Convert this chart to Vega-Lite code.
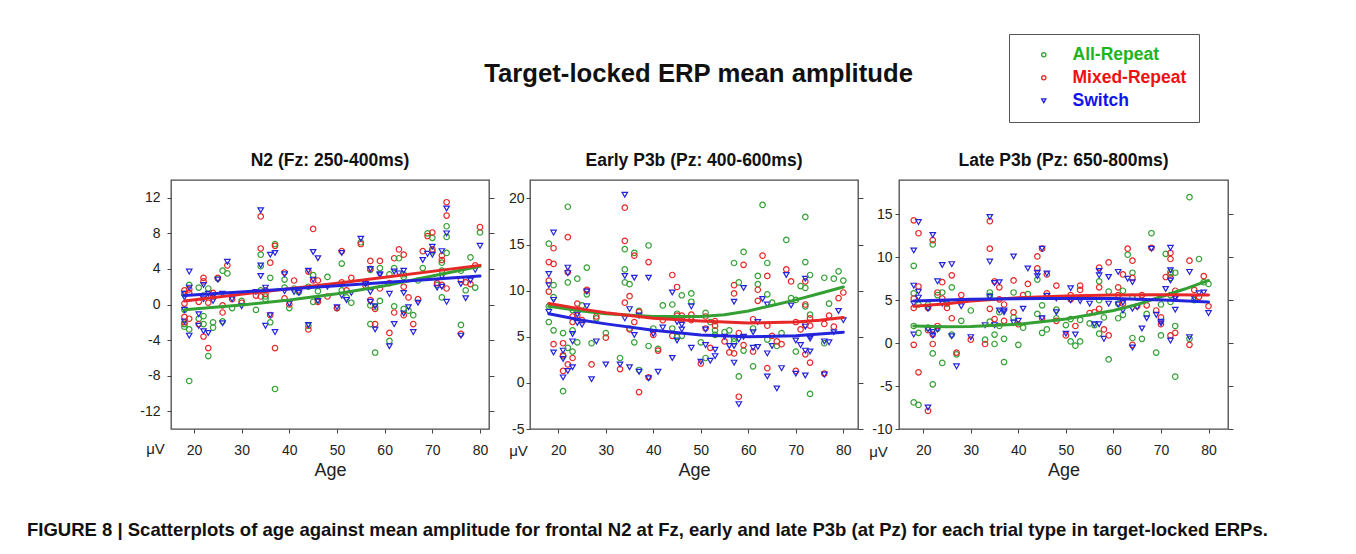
{
"$schema": "https://vega.github.io/schema/vega-lite/v6.json",
"padding": {"left": 27, "top": 33, "right": 5, "bottom": 5},
"background": "white",
"datasets": {
"n2": [
{"a":18,"t":"A","v":-2.5},{"a":18,"t":"A","v":-2.2},{"a":18,"t":"A","v":-0.6},{"a":18,"t":"A","v":1.2},{"a":18,"t":"M","v":1.6},{"a":18,"t":"M","v":0.1},{"a":18,"t":"M","v":-1.4},{"a":18,"t":"M","v":-2.0},{"a":18,"t":"S","v":1.2},{"a":18,"t":"S","v":0.8},{"a":18,"t":"S","v":-0.6},{"a":18,"t":"S","v":-1.9},
{"a":19,"t":"A","v":2.2},{"a":19,"t":"A","v":-2.8},{"a":19,"t":"A","v":-8.6},{"a":19,"t":"M","v":1.7},{"a":19,"t":"M","v":1.3},{"a":19,"t":"M","v":-1.6},{"a":19,"t":"S","v":3.7},{"a":19,"t":"S","v":1.9},{"a":19,"t":"S","v":-3.5},
{"a":21,"t":"A","v":1.9},{"a":21,"t":"A","v":-1.6},{"a":21,"t":"M","v":0.3},{"a":21,"t":"M","v":-2.2},{"a":21,"t":"S","v":-1.1},{"a":21,"t":"S","v":-2.4},
{"a":22,"t":"A","v":1.0},{"a":22,"t":"A","v":-1.3},{"a":22,"t":"A","v":-2.2},{"a":22,"t":"M","v":3.0},{"a":22,"t":"M","v":2.6},{"a":22,"t":"M","v":-3.6},{"a":22,"t":"S","v":2.2},{"a":22,"t":"S","v":0.6},{"a":22,"t":"S","v":-3.0},
{"a":23,"t":"A","v":1.8},{"a":23,"t":"A","v":-5.8},{"a":23,"t":"M","v":0.2},{"a":23,"t":"M","v":-4.9},{"a":23,"t":"S","v":1.2},{"a":23,"t":"S","v":-3.2},
{"a":24,"t":"A","v":-2.0},{"a":24,"t":"A","v":-2.6},{"a":24,"t":"M","v":1.3},{"a":24,"t":"M","v":0.9},{"a":24,"t":"S","v":0.4},{"a":24,"t":"S","v":1.0},
{"a":25,"t":"A","v":2.9},{"a":25,"t":"M","v":3.0},{"a":25,"t":"S","v":2.8},
{"a":26,"t":"A","v":3.8},{"a":26,"t":"A","v":-1.9},{"a":26,"t":"M","v":-0.1},{"a":26,"t":"M","v":-0.9},{"a":26,"t":"S","v":1.2},{"a":26,"t":"S","v":-2.1},
{"a":27,"t":"A","v":3.5},{"a":27,"t":"M","v":4.4},{"a":27,"t":"S","v":4.8},
{"a":28,"t":"A","v":-0.4},{"a":28,"t":"M","v":0.6},{"a":28,"t":"S","v":0.6},
{"a":30,"t":"A","v":0.4},{"a":30,"t":"M","v":0.2},{"a":30,"t":"S","v":-0.2},
{"a":33,"t":"A","v":-0.6},{"a":33,"t":"M","v":1.0},{"a":33,"t":"S","v":1.4},
{"a":34,"t":"A","v":5.6},{"a":34,"t":"A","v":4.3},{"a":34,"t":"A","v":1.6},{"a":34,"t":"M","v":9.9},{"a":34,"t":"M","v":6.3},{"a":34,"t":"M","v":0.9},{"a":34,"t":"S","v":10.6},{"a":34,"t":"S","v":4.4},{"a":34,"t":"S","v":3.2},
{"a":35,"t":"A","v":0.9},{"a":35,"t":"A","v":0.6},{"a":35,"t":"M","v":1.6},{"a":35,"t":"M","v":1.2},{"a":35,"t":"S","v":1.9},{"a":35,"t":"S","v":-2.4},
{"a":36,"t":"A","v":3.0},{"a":36,"t":"A","v":-2.0},{"a":36,"t":"M","v":4.7},{"a":36,"t":"M","v":-1.2},{"a":36,"t":"S","v":5.6},{"a":36,"t":"S","v":-1.2},
{"a":37,"t":"A","v":6.8},{"a":37,"t":"A","v":-9.5},{"a":37,"t":"M","v":6.6},{"a":37,"t":"M","v":-4.9},{"a":37,"t":"S","v":5.8},{"a":37,"t":"S","v":-3.1},
{"a":39,"t":"A","v":2.8},{"a":39,"t":"A","v":1.9},{"a":39,"t":"M","v":3.6},{"a":39,"t":"M","v":0.7},{"a":39,"t":"S","v":3.4},{"a":39,"t":"S","v":1.5},
{"a":40,"t":"A","v":-0.4},{"a":40,"t":"M","v":0.0},{"a":40,"t":"S","v":0.1},
{"a":41,"t":"A","v":1.8},{"a":41,"t":"M","v":2.7},{"a":41,"t":"S","v":1.4},
{"a":42,"t":"A","v":1.4},{"a":42,"t":"M","v":1.6},{"a":42,"t":"S","v":1.3},
{"a":44,"t":"A","v":2.0},{"a":44,"t":"A","v":-2.4},{"a":44,"t":"M","v":3.7},{"a":44,"t":"M","v":-2.8},{"a":44,"t":"S","v":3.8},{"a":44,"t":"S","v":-2.3},
{"a":45,"t":"A","v":3.3},{"a":45,"t":"A","v":0.3},{"a":45,"t":"M","v":8.5},{"a":45,"t":"M","v":2.7},{"a":45,"t":"S","v":5.9},{"a":45,"t":"S","v":2.8},
{"a":46,"t":"A","v":1.5},{"a":46,"t":"A","v":0.5},{"a":46,"t":"M","v":2.7},{"a":46,"t":"M","v":0.3},{"a":46,"t":"S","v":5.2},{"a":46,"t":"S","v":0.4},
{"a":48,"t":"A","v":3.1},{"a":48,"t":"M","v":0.9},{"a":48,"t":"S","v":2.0},
{"a":50,"t":"A","v":-0.4},{"a":50,"t":"M","v":-0.4},{"a":50,"t":"S","v":-0.3},
{"a":51,"t":"A","v":4.6},{"a":51,"t":"A","v":1.6},{"a":51,"t":"M","v":6.0},{"a":51,"t":"M","v":2.5},{"a":51,"t":"S","v":5.8},{"a":51,"t":"S","v":1.0},
{"a":52,"t":"A","v":0.8},{"a":52,"t":"M","v":1.6},{"a":52,"t":"S","v":0.5},
{"a":53,"t":"A","v":0.2},{"a":53,"t":"M","v":3.0},{"a":53,"t":"S","v":1.3},
{"a":55,"t":"A","v":7.0},{"a":55,"t":"M","v":6.8},{"a":55,"t":"S","v":7.4},
{"a":56,"t":"A","v":2.4},{"a":56,"t":"M","v":2.1},{"a":56,"t":"S","v":2.3},
{"a":57,"t":"A","v":3.9},{"a":57,"t":"A","v":-0.1},{"a":57,"t":"A","v":-2.2},{"a":57,"t":"M","v":4.9},{"a":57,"t":"M","v":4.0},{"a":57,"t":"M","v":0.5},{"a":57,"t":"S","v":4.0},{"a":57,"t":"S","v":1.4},{"a":57,"t":"S","v":0.3},
{"a":58,"t":"A","v":-0.3},{"a":58,"t":"A","v":-5.4},{"a":58,"t":"M","v":-0.5},{"a":58,"t":"M","v":-2.2},{"a":58,"t":"S","v":-0.2},{"a":58,"t":"S","v":-2.8},
{"a":59,"t":"A","v":4.1},{"a":59,"t":"A","v":0.4},{"a":59,"t":"M","v":4.9},{"a":59,"t":"M","v":1.8},{"a":59,"t":"S","v":3.4},{"a":59,"t":"S","v":3.3},
{"a":61,"t":"A","v":3.4},{"a":61,"t":"A","v":-4.1},{"a":61,"t":"M","v":2.4},{"a":61,"t":"M","v":-3.2},{"a":61,"t":"S","v":1.2},{"a":61,"t":"S","v":-4.7},
{"a":62,"t":"A","v":4.1},{"a":62,"t":"A","v":-0.2},{"a":62,"t":"M","v":5.2},{"a":62,"t":"M","v":-0.9},{"a":62,"t":"S","v":3.7},{"a":62,"t":"S","v":-2.2},
{"a":63,"t":"A","v":5.2},{"a":63,"t":"M","v":6.2},{"a":63,"t":"S","v":3.5},
{"a":64,"t":"A","v":3.4},{"a":64,"t":"A","v":3.1},{"a":64,"t":"A","v":-0.5},{"a":64,"t":"M","v":5.6},{"a":64,"t":"M","v":2.0},{"a":64,"t":"M","v":-1.2},{"a":64,"t":"S","v":3.8},{"a":64,"t":"S","v":1.3},{"a":64,"t":"S","v":-1.0},
{"a":65,"t":"A","v":-0.7},{"a":65,"t":"M","v":0.8},{"a":65,"t":"S","v":-0.3},
{"a":66,"t":"A","v":-1.2},{"a":66,"t":"M","v":-2.2},{"a":66,"t":"S","v":-3.1},
{"a":67,"t":"A","v":2.7},{"a":67,"t":"M","v":0.6},{"a":67,"t":"S","v":0.2},
{"a":68,"t":"A","v":4.1},{"a":68,"t":"M","v":6.0},{"a":68,"t":"S","v":5.0},
{"a":69,"t":"A","v":8.0},{"a":69,"t":"M","v":7.7},{"a":69,"t":"S","v":5.7},
{"a":70,"t":"A","v":7.5},{"a":70,"t":"A","v":6.0},{"a":70,"t":"M","v":8.1},{"a":70,"t":"M","v":6.2},{"a":70,"t":"S","v":6.5},{"a":70,"t":"S","v":5.6},
{"a":71,"t":"A","v":2.2},{"a":71,"t":"M","v":2.4},{"a":71,"t":"S","v":1.9},
{"a":72,"t":"A","v":4.7},{"a":72,"t":"A","v":3.8},{"a":72,"t":"A","v":0.8},{"a":72,"t":"M","v":5.5},{"a":72,"t":"M","v":5.0},{"a":72,"t":"M","v":2.2},{"a":72,"t":"S","v":6.0},{"a":72,"t":"S","v":3.1},{"a":72,"t":"S","v":2.0},
{"a":73,"t":"A","v":8.8},{"a":73,"t":"A","v":7.6},{"a":73,"t":"A","v":5.8},{"a":73,"t":"M","v":11.5},{"a":73,"t":"M","v":10.0},{"a":73,"t":"M","v":1.8},{"a":73,"t":"S","v":10.8},{"a":73,"t":"S","v":8.0},{"a":73,"t":"S","v":0.3},
{"a":76,"t":"A","v":3.8},{"a":76,"t":"A","v":-2.3},{"a":76,"t":"M","v":2.8},{"a":76,"t":"M","v":-3.3},{"a":76,"t":"S","v":2.3},{"a":76,"t":"S","v":-3.5},
{"a":77,"t":"A","v":1.6},{"a":77,"t":"M","v":2.5},{"a":77,"t":"S","v":0.7},
{"a":78,"t":"A","v":5.3},{"a":78,"t":"M","v":2.3},{"a":78,"t":"S","v":2.7},
{"a":79,"t":"A","v":1.9},{"a":79,"t":"M","v":4.4},{"a":79,"t":"S","v":3.9},
{"a":80,"t":"A","v":8.1},{"a":80,"t":"M","v":8.7},{"a":80,"t":"S","v":6.6}
],
"early": [
{"a":18,"t":"A","v":15.1},{"a":18,"t":"A","v":8.3},{"a":18,"t":"A","v":6.6},{"a":18,"t":"M","v":13.1},{"a":18,"t":"M","v":11.1},{"a":18,"t":"M","v":9.9},{"a":18,"t":"S","v":11.8},{"a":18,"t":"S","v":10.6},{"a":18,"t":"S","v":7.7},
{"a":19,"t":"A","v":10.6},{"a":19,"t":"A","v":9.3},{"a":19,"t":"A","v":5.7},{"a":19,"t":"M","v":14.6},{"a":19,"t":"M","v":12.9},{"a":19,"t":"M","v":4.2},{"a":19,"t":"S","v":16.3},{"a":19,"t":"S","v":9.0},{"a":19,"t":"S","v":3.3},
{"a":21,"t":"A","v":5.4},{"a":21,"t":"A","v":2.9},{"a":21,"t":"A","v":-0.9},{"a":21,"t":"M","v":4.3},{"a":21,"t":"M","v":3.0},{"a":21,"t":"M","v":1.3},{"a":21,"t":"S","v":3.5},{"a":21,"t":"S","v":2.6},{"a":21,"t":"S","v":0.6},
{"a":22,"t":"A","v":19.1},{"a":22,"t":"A","v":10.9},{"a":22,"t":"A","v":3.8},{"a":22,"t":"M","v":15.8},{"a":22,"t":"M","v":12.0},{"a":22,"t":"M","v":2.0},{"a":22,"t":"S","v":12.5},{"a":22,"t":"S","v":11.9},{"a":22,"t":"S","v":1.3},
{"a":23,"t":"A","v":7.9},{"a":23,"t":"A","v":5.7},{"a":23,"t":"A","v":3.4},{"a":23,"t":"M","v":7.2},{"a":23,"t":"M","v":6.6},{"a":23,"t":"M","v":2.7},{"a":23,"t":"S","v":5.3},{"a":23,"t":"S","v":4.5},{"a":23,"t":"S","v":1.7},
{"a":24,"t":"A","v":11.3},{"a":24,"t":"A","v":4.4},{"a":24,"t":"M","v":8.6},{"a":24,"t":"M","v":7.3},{"a":24,"t":"S","v":7.4},{"a":24,"t":"S","v":6.5},
{"a":25,"t":"A","v":8.4},{"a":25,"t":"M","v":6.8},{"a":25,"t":"S","v":6.3},
{"a":26,"t":"A","v":12.5},{"a":26,"t":"A","v":9.6},{"a":26,"t":"M","v":10.1},{"a":26,"t":"M","v":10.0},{"a":26,"t":"S","v":9.9},{"a":26,"t":"S","v":8.3},
{"a":27,"t":"A","v":4.3},{"a":27,"t":"M","v":2.0},{"a":27,"t":"S","v":0.4},
{"a":28,"t":"A","v":7.0},{"a":28,"t":"M","v":7.2},{"a":28,"t":"S","v":4.5},
{"a":30,"t":"A","v":5.4},{"a":30,"t":"M","v":4.9},{"a":30,"t":"S","v":2.0},
{"a":33,"t":"A","v":2.7},{"a":33,"t":"M","v":1.5},{"a":33,"t":"S","v":2.0},
{"a":34,"t":"A","v":14.5},{"a":34,"t":"A","v":12.3},{"a":34,"t":"A","v":10.9},{"a":34,"t":"M","v":19.0},{"a":34,"t":"M","v":15.4},{"a":34,"t":"M","v":8.7},{"a":34,"t":"S","v":20.4},{"a":34,"t":"S","v":11.6},{"a":34,"t":"S","v":7.0},
{"a":35,"t":"A","v":10.7},{"a":35,"t":"A","v":5.9},{"a":35,"t":"M","v":9.4},{"a":35,"t":"M","v":5.8},{"a":35,"t":"S","v":8.0},{"a":35,"t":"S","v":1.7},
{"a":36,"t":"A","v":14.1},{"a":36,"t":"A","v":4.4},{"a":36,"t":"M","v":13.8},{"a":36,"t":"M","v":6.6},{"a":36,"t":"S","v":11.4},{"a":36,"t":"S","v":5.2},
{"a":37,"t":"A","v":7.8},{"a":37,"t":"A","v":1.4},{"a":37,"t":"M","v":7.7},{"a":37,"t":"M","v":-1.0},{"a":37,"t":"S","v":7.3},{"a":37,"t":"S","v":1.2},
{"a":39,"t":"A","v":14.9},{"a":39,"t":"A","v":4.0},{"a":39,"t":"M","v":13.1},{"a":39,"t":"M","v":0.6},{"a":39,"t":"S","v":11.4},{"a":39,"t":"S","v":0.5},
{"a":40,"t":"A","v":5.9},{"a":40,"t":"M","v":5.2},{"a":40,"t":"S","v":5.3},
{"a":41,"t":"A","v":3.7},{"a":41,"t":"M","v":3.5},{"a":41,"t":"S","v":1.2},
{"a":42,"t":"A","v":8.4},{"a":42,"t":"M","v":6.8},{"a":42,"t":"S","v":6.0},
{"a":44,"t":"A","v":8.5},{"a":44,"t":"A","v":5.9},{"a":44,"t":"M","v":11.7},{"a":44,"t":"M","v":5.1},{"a":44,"t":"S","v":9.8},{"a":44,"t":"S","v":2.7},
{"a":45,"t":"A","v":7.5},{"a":45,"t":"A","v":5.0},{"a":45,"t":"M","v":10.4},{"a":45,"t":"M","v":7.3},{"a":45,"t":"S","v":6.6},{"a":45,"t":"S","v":4.6},
{"a":46,"t":"A","v":9.5},{"a":46,"t":"A","v":5.1},{"a":46,"t":"M","v":7.3},{"a":46,"t":"M","v":6.9},{"a":46,"t":"S","v":6.3},{"a":46,"t":"S","v":5.8},
{"a":48,"t":"A","v":9.7},{"a":48,"t":"A","v":8.8},{"a":48,"t":"M","v":7.4},{"a":48,"t":"M","v":6.8},{"a":48,"t":"S","v":8.3},{"a":48,"t":"S","v":3.8},
{"a":50,"t":"A","v":4.4},{"a":50,"t":"M","v":2.1},{"a":50,"t":"S","v":2.3},
{"a":51,"t":"A","v":7.6},{"a":51,"t":"A","v":2.7},{"a":51,"t":"M","v":7.2},{"a":51,"t":"M","v":5.9},{"a":51,"t":"S","v":5.8},{"a":51,"t":"S","v":4.1},
{"a":52,"t":"A","v":6.6},{"a":52,"t":"M","v":3.8},{"a":52,"t":"S","v":2.4},
{"a":53,"t":"A","v":5.7},{"a":53,"t":"A","v":5.2},{"a":53,"t":"M","v":6.7},{"a":53,"t":"M","v":6.2},{"a":53,"t":"S","v":3.6},{"a":53,"t":"S","v":2.9},
{"a":55,"t":"A","v":5.5},{"a":55,"t":"M","v":4.5},{"a":55,"t":"S","v":5.0},
{"a":56,"t":"A","v":5.7},{"a":56,"t":"M","v":3.3},{"a":56,"t":"S","v":4.0},
{"a":57,"t":"A","v":13.0},{"a":57,"t":"A","v":4.8},{"a":57,"t":"A","v":4.5},{"a":57,"t":"M","v":10.6},{"a":57,"t":"M","v":9.7},{"a":57,"t":"M","v":3.2},{"a":57,"t":"S","v":8.8},{"a":57,"t":"S","v":4.0},{"a":57,"t":"S","v":2.2},
{"a":58,"t":"A","v":10.9},{"a":58,"t":"A","v":0.7},{"a":58,"t":"M","v":5.4},{"a":58,"t":"M","v":-1.5},{"a":58,"t":"S","v":4.7},{"a":58,"t":"S","v":-2.3},
{"a":59,"t":"A","v":14.2},{"a":59,"t":"A","v":3.5},{"a":59,"t":"M","v":12.8},{"a":59,"t":"M","v":4.1},{"a":59,"t":"S","v":10.3},{"a":59,"t":"S","v":5.0},
{"a":61,"t":"A","v":5.9},{"a":61,"t":"A","v":1.8},{"a":61,"t":"M","v":6.9},{"a":61,"t":"M","v":3.4},{"a":61,"t":"S","v":5.5},{"a":61,"t":"S","v":3.8},
{"a":62,"t":"A","v":11.6},{"a":62,"t":"A","v":10.7},{"a":62,"t":"M","v":10.1},{"a":62,"t":"M","v":8.9},{"a":62,"t":"S","v":6.6},{"a":62,"t":"S","v":3.9},
{"a":63,"t":"A","v":19.3},{"a":63,"t":"M","v":13.8},{"a":63,"t":"S","v":9.1},
{"a":64,"t":"A","v":13.0},{"a":64,"t":"A","v":9.6},{"a":64,"t":"A","v":4.7},{"a":64,"t":"M","v":11.6},{"a":64,"t":"M","v":6.2},{"a":64,"t":"M","v":1.6},{"a":64,"t":"S","v":8.5},{"a":64,"t":"S","v":3.2},{"a":64,"t":"S","v":0.7},
{"a":65,"t":"A","v":8.7},{"a":65,"t":"M","v":5.1},{"a":65,"t":"S","v":4.0},
{"a":66,"t":"A","v":4.0},{"a":66,"t":"M","v":4.5},{"a":66,"t":"S","v":-0.6},
{"a":67,"t":"A","v":5.4},{"a":67,"t":"M","v":4.2},{"a":67,"t":"S","v":1.6},
{"a":68,"t":"A","v":15.5},{"a":68,"t":"M","v":12.3},{"a":68,"t":"S","v":11.7},
{"a":69,"t":"A","v":9.2},{"a":69,"t":"M","v":11.0},{"a":69,"t":"S","v":8.4},
{"a":70,"t":"A","v":9.0},{"a":70,"t":"A","v":3.4},{"a":70,"t":"M","v":6.6},{"a":70,"t":"M","v":1.3},{"a":70,"t":"S","v":4.6},{"a":70,"t":"S","v":1.0},
{"a":71,"t":"A","v":10.5},{"a":71,"t":"M","v":5.8},{"a":71,"t":"S","v":4.1},
{"a":72,"t":"A","v":18.0},{"a":72,"t":"A","v":13.1},{"a":72,"t":"A","v":10.3},{"a":72,"t":"A","v":8.3},{"a":72,"t":"M","v":11.0},{"a":72,"t":"M","v":8.5},{"a":72,"t":"M","v":6.3},{"a":72,"t":"M","v":3.1},{"a":72,"t":"S","v":11.3},{"a":72,"t":"S","v":6.1},{"a":72,"t":"S","v":3.5},{"a":72,"t":"S","v":0.8},
{"a":73,"t":"A","v":11.7},{"a":73,"t":"A","v":7.4},{"a":73,"t":"A","v":-1.2},{"a":73,"t":"M","v":7.0},{"a":73,"t":"M","v":6.2},{"a":73,"t":"M","v":2.2},{"a":73,"t":"S","v":5.0},{"a":73,"t":"S","v":4.8},{"a":73,"t":"S","v":3.4},
{"a":76,"t":"A","v":11.4},{"a":76,"t":"A","v":4.3},{"a":76,"t":"M","v":6.4},{"a":76,"t":"M","v":1.0},{"a":76,"t":"S","v":4.5},{"a":76,"t":"S","v":0.9},
{"a":77,"t":"A","v":8.6},{"a":77,"t":"M","v":7.3},{"a":77,"t":"S","v":4.4},
{"a":78,"t":"A","v":11.3},{"a":78,"t":"M","v":6.1},{"a":78,"t":"S","v":5.5},
{"a":79,"t":"A","v":12.1},{"a":79,"t":"M","v":9.2},{"a":79,"t":"S","v":7.8},
{"a":80,"t":"A","v":11.1},{"a":80,"t":"M","v":9.8},{"a":80,"t":"S","v":6.8}
],
"late": [
{"a":18,"t":"A","v":9.0},{"a":18,"t":"A","v":5.8},{"a":18,"t":"A","v":2.0},{"a":18,"t":"A","v":-6.9},{"a":18,"t":"M","v":14.3},{"a":18,"t":"M","v":5.2},{"a":18,"t":"M","v":4.1},{"a":18,"t":"M","v":-0.2},{"a":18,"t":"S","v":10.8},{"a":18,"t":"S","v":6.7},{"a":18,"t":"S","v":4.6},{"a":18,"t":"S","v":1.0},
{"a":19,"t":"A","v":4.5},{"a":19,"t":"A","v":1.2},{"a":19,"t":"A","v":-7.2},{"a":19,"t":"M","v":12.8},{"a":19,"t":"M","v":6.6},{"a":19,"t":"M","v":-3.4},{"a":19,"t":"S","v":14.1},{"a":19,"t":"S","v":6.0},{"a":19,"t":"S","v":5.3},
{"a":21,"t":"A","v":4.5},{"a":21,"t":"A","v":4.2},{"a":21,"t":"A","v":1.8},{"a":21,"t":"M","v":4.1},{"a":21,"t":"M","v":1.5},{"a":21,"t":"M","v":-7.9},{"a":21,"t":"S","v":4.0},{"a":21,"t":"S","v":1.6},{"a":21,"t":"S","v":-7.5},
{"a":22,"t":"A","v":11.5},{"a":22,"t":"A","v":-1.2},{"a":22,"t":"A","v":-4.8},{"a":22,"t":"M","v":12.0},{"a":22,"t":"M","v":1.0},{"a":22,"t":"M","v":-0.1},{"a":22,"t":"S","v":12.6},{"a":22,"t":"S","v":1.3},{"a":22,"t":"S","v":0.9},
{"a":23,"t":"A","v":5.6},{"a":23,"t":"A","v":1.7},{"a":23,"t":"M","v":5.9},{"a":23,"t":"M","v":2.0},{"a":23,"t":"S","v":7.2},{"a":23,"t":"S","v":1.6},
{"a":24,"t":"A","v":5.9},{"a":24,"t":"A","v":-2.3},{"a":24,"t":"M","v":7.1},{"a":24,"t":"M","v":5.2},{"a":24,"t":"S","v":9.1},{"a":24,"t":"S","v":4.6},
{"a":25,"t":"A","v":4.6},{"a":25,"t":"M","v":4.1},{"a":25,"t":"S","v":4.8},
{"a":26,"t":"A","v":6.5},{"a":26,"t":"A","v":1.0},{"a":26,"t":"M","v":7.9},{"a":26,"t":"M","v":2.9},{"a":26,"t":"S","v":9.2},{"a":26,"t":"S","v":0.8},
{"a":27,"t":"A","v":-1.3},{"a":27,"t":"M","v":-1.1},{"a":27,"t":"S","v":-2.7},
{"a":28,"t":"A","v":2.6},{"a":28,"t":"M","v":5.6},{"a":28,"t":"S","v":4.3},
{"a":30,"t":"A","v":3.8},{"a":30,"t":"M","v":0.4},{"a":30,"t":"S","v":0.7},
{"a":33,"t":"A","v":0.4},{"a":33,"t":"M","v":-0.1},{"a":33,"t":"S","v":2.1},
{"a":34,"t":"A","v":5.9},{"a":34,"t":"A","v":5.5},{"a":34,"t":"A","v":2.5},{"a":34,"t":"M","v":14.2},{"a":34,"t":"M","v":11.0},{"a":34,"t":"M","v":4.0},{"a":34,"t":"S","v":14.7},{"a":34,"t":"S","v":9.5},{"a":34,"t":"S","v":5.4},
{"a":35,"t":"A","v":1.0},{"a":35,"t":"A","v":-0.1},{"a":35,"t":"M","v":7.2},{"a":35,"t":"M","v":2.8},{"a":35,"t":"S","v":7.0},{"a":35,"t":"S","v":2.1},
{"a":36,"t":"A","v":3.6},{"a":36,"t":"A","v":2.0},{"a":36,"t":"M","v":6.5},{"a":36,"t":"M","v":5.1},{"a":36,"t":"S","v":7.1},{"a":36,"t":"S","v":3.8},
{"a":37,"t":"A","v":0.5},{"a":37,"t":"A","v":-2.2},{"a":37,"t":"M","v":4.5},{"a":37,"t":"M","v":2.6},{"a":37,"t":"S","v":3.8},{"a":37,"t":"S","v":3.6},
{"a":39,"t":"A","v":5.9},{"a":39,"t":"A","v":3.0},{"a":39,"t":"M","v":7.3},{"a":39,"t":"M","v":3.6},{"a":39,"t":"S","v":10.1},{"a":39,"t":"S","v":2.4},
{"a":40,"t":"A","v":-0.2},{"a":40,"t":"M","v":2.2},{"a":40,"t":"S","v":2.6},
{"a":41,"t":"A","v":1.8},{"a":41,"t":"M","v":5.6},{"a":41,"t":"S","v":4.0},
{"a":42,"t":"A","v":5.7},{"a":42,"t":"M","v":6.9},{"a":42,"t":"S","v":8.7},
{"a":44,"t":"A","v":7.4},{"a":44,"t":"A","v":3.4},{"a":44,"t":"M","v":10.1},{"a":44,"t":"M","v":8.7},{"a":44,"t":"S","v":8.2},{"a":44,"t":"S","v":7.8},
{"a":45,"t":"A","v":4.4},{"a":45,"t":"A","v":1.2},{"a":45,"t":"M","v":11.0},{"a":45,"t":"M","v":2.9},{"a":45,"t":"S","v":11.0},{"a":45,"t":"S","v":2.9},
{"a":46,"t":"A","v":5.5},{"a":46,"t":"A","v":1.6},{"a":46,"t":"M","v":8.0},{"a":46,"t":"M","v":5.8},{"a":46,"t":"S","v":8.1},{"a":46,"t":"S","v":5.5},
{"a":48,"t":"A","v":3.9},{"a":48,"t":"A","v":2.9},{"a":48,"t":"M","v":6.7},{"a":48,"t":"M","v":2.6},{"a":48,"t":"S","v":5.2},{"a":48,"t":"S","v":3.6},
{"a":50,"t":"A","v":2.1},{"a":50,"t":"M","v":0.9},{"a":50,"t":"S","v":1.1},
{"a":51,"t":"A","v":2.8},{"a":51,"t":"A","v":0.2},{"a":51,"t":"M","v":5.6},{"a":51,"t":"M","v":5.1},{"a":51,"t":"S","v":6.4},{"a":51,"t":"S","v":5.0},
{"a":52,"t":"A","v":-0.3},{"a":52,"t":"M","v":2.0},{"a":52,"t":"S","v":1.0},
{"a":53,"t":"A","v":2.7},{"a":53,"t":"A","v":0.2},{"a":53,"t":"M","v":6.7},{"a":53,"t":"M","v":6.2},{"a":53,"t":"S","v":5.3},{"a":53,"t":"S","v":4.9},
{"a":55,"t":"A","v":2.3},{"a":55,"t":"M","v":3.5},{"a":55,"t":"S","v":4.6},
{"a":56,"t":"A","v":2.1},{"a":56,"t":"M","v":3.6},{"a":56,"t":"S","v":2.2},
{"a":57,"t":"A","v":7.2},{"a":57,"t":"A","v":5.0},{"a":57,"t":"A","v":1.1},{"a":57,"t":"M","v":8.8},{"a":57,"t":"M","v":6.5},{"a":57,"t":"M","v":4.0},{"a":57,"t":"S","v":8.4},{"a":57,"t":"S","v":7.9},{"a":57,"t":"S","v":2.2},
{"a":58,"t":"A","v":3.0},{"a":58,"t":"M","v":1.6},{"a":58,"t":"S","v":0.5},
{"a":59,"t":"A","v":6.0},{"a":59,"t":"A","v":-1.9},{"a":59,"t":"M","v":9.4},{"a":59,"t":"M","v":0.9},{"a":59,"t":"S","v":7.7},{"a":59,"t":"S","v":4.6},
{"a":61,"t":"A","v":4.6},{"a":61,"t":"A","v":2.9},{"a":61,"t":"M","v":6.5},{"a":61,"t":"M","v":5.6},{"a":61,"t":"S","v":8.3},{"a":61,"t":"S","v":4.5},
{"a":62,"t":"A","v":6.1},{"a":62,"t":"A","v":3.3},{"a":62,"t":"M","v":8.0},{"a":62,"t":"M","v":4.6},{"a":62,"t":"S","v":4.7},{"a":62,"t":"S","v":3.8},
{"a":63,"t":"A","v":10.3},{"a":63,"t":"M","v":11.0},{"a":63,"t":"S","v":7.5},
{"a":64,"t":"A","v":8.2},{"a":64,"t":"A","v":5.4},{"a":64,"t":"A","v":0.6},{"a":64,"t":"M","v":9.6},{"a":64,"t":"M","v":7.6},{"a":64,"t":"M","v":-0.2},{"a":64,"t":"S","v":7.1},{"a":64,"t":"S","v":4.0},{"a":64,"t":"S","v":-0.5},
{"a":65,"t":"A","v":5.3},{"a":65,"t":"M","v":4.3},{"a":65,"t":"S","v":4.2},
{"a":66,"t":"A","v":0.5},{"a":66,"t":"M","v":5.6},{"a":66,"t":"S","v":1.7},
{"a":67,"t":"A","v":3.4},{"a":67,"t":"M","v":4.4},{"a":67,"t":"S","v":2.9},
{"a":68,"t":"A","v":12.8},{"a":68,"t":"M","v":11.1},{"a":68,"t":"S","v":11.0},
{"a":69,"t":"A","v":-1.1},{"a":69,"t":"M","v":3.8},{"a":69,"t":"S","v":3.3},
{"a":70,"t":"A","v":4.5},{"a":70,"t":"A","v":0.9},{"a":70,"t":"M","v":3.0},{"a":70,"t":"M","v":2.2},{"a":70,"t":"S","v":2.5},{"a":70,"t":"S","v":2.3},
{"a":71,"t":"A","v":10.4},{"a":71,"t":"M","v":7.7},{"a":71,"t":"S","v":6.3},
{"a":72,"t":"A","v":8.3},{"a":72,"t":"A","v":7.6},{"a":72,"t":"A","v":5.6},{"a":72,"t":"A","v":4.8},{"a":72,"t":"M","v":10.5},{"a":72,"t":"M","v":9.8},{"a":72,"t":"M","v":8.0},{"a":72,"t":"M","v":0.9},{"a":72,"t":"S","v":11.1},{"a":72,"t":"S","v":8.5},{"a":72,"t":"S","v":7.3},{"a":72,"t":"S","v":0.3},
{"a":73,"t":"A","v":8.2},{"a":73,"t":"A","v":2.0},{"a":73,"t":"A","v":-3.9},{"a":73,"t":"M","v":6.1},{"a":73,"t":"M","v":5.5},{"a":73,"t":"M","v":1.2},{"a":73,"t":"S","v":5.3},{"a":73,"t":"S","v":5.2},{"a":73,"t":"S","v":3.9},
{"a":76,"t":"A","v":17.0},{"a":76,"t":"A","v":0.5},{"a":76,"t":"M","v":9.6},{"a":76,"t":"M","v":-0.2},{"a":76,"t":"S","v":8.3},{"a":76,"t":"S","v":0.7},
{"a":77,"t":"A","v":5.0},{"a":77,"t":"M","v":6.2},{"a":77,"t":"S","v":5.2},
{"a":78,"t":"A","v":9.8},{"a":78,"t":"M","v":5.4},{"a":78,"t":"S","v":5.8},
{"a":79,"t":"A","v":7.1},{"a":79,"t":"M","v":7.8},{"a":79,"t":"S","v":5.9},
{"a":80,"t":"A","v":6.9},{"a":80,"t":"M","v":4.3},{"a":80,"t":"S","v":3.5}
],
"n2fit": [
{"a":18,"t":"A","v":-0.6},{"a":30,"t":"A","v":-0.05},{"a":40,"t":"A","v":0.5},{"a":50,"t":"A","v":1.2},{"a":60,"t":"A","v":2.1},{"a":70,"t":"A","v":3.2},{"a":80,"t":"A","v":4.3},
{"a":18,"t":"M","v":0.4},{"a":50,"t":"M","v":2.4},{"a":80,"t":"M","v":4.4},
{"a":18,"t":"S","v":1.0},{"a":50,"t":"S","v":2.1},{"a":80,"t":"S","v":3.2}
],
"earlyfit": [
{"a":18,"t":"A","v":8.3},{"a":25,"t":"A","v":7.8},{"a":30,"t":"A","v":7.5},{"a":40,"t":"A","v":7.2},{"a":50,"t":"A","v":7.2},{"a":55,"t":"A","v":7.4},{"a":60,"t":"A","v":7.8},{"a":65,"t":"A","v":8.4},{"a":70,"t":"A","v":9.0},{"a":75,"t":"A","v":9.7},{"a":80,"t":"A","v":10.4},
{"a":18,"t":"M","v":8.6},{"a":25,"t":"M","v":8.0},{"a":30,"t":"M","v":7.6},{"a":40,"t":"M","v":7.0},{"a":50,"t":"M","v":6.7},{"a":60,"t":"M","v":6.5},{"a":70,"t":"M","v":6.6},{"a":75,"t":"M","v":6.8},{"a":80,"t":"M","v":7.1},
{"a":18,"t":"S","v":7.5},{"a":25,"t":"S","v":6.8},{"a":30,"t":"S","v":6.4},{"a":40,"t":"S","v":5.7},{"a":50,"t":"S","v":5.2},{"a":60,"t":"S","v":5.0},{"a":70,"t":"S","v":5.1},{"a":80,"t":"S","v":5.5}
],
"latefit": [
{"a":18,"t":"A","v":2.0},{"a":25,"t":"A","v":1.9},{"a":30,"t":"A","v":1.95},{"a":40,"t":"A","v":2.2},{"a":45,"t":"A","v":2.5},{"a":50,"t":"A","v":2.8},{"a":55,"t":"A","v":3.3},{"a":60,"t":"A","v":3.8},{"a":65,"t":"A","v":4.5},{"a":70,"t":"A","v":5.4},{"a":75,"t":"A","v":6.3},{"a":80,"t":"A","v":7.3},
{"a":18,"t":"M","v":4.3},{"a":25,"t":"M","v":4.6},{"a":30,"t":"M","v":4.9},{"a":40,"t":"M","v":5.3},{"a":50,"t":"M","v":5.5},{"a":60,"t":"M","v":5.6},{"a":70,"t":"M","v":5.65},{"a":80,"t":"M","v":5.6},
{"a":18,"t":"S","v":4.9},{"a":30,"t":"S","v":5.1},{"a":45,"t":"S","v":5.2},{"a":60,"t":"S","v":5.2},{"a":72,"t":"S","v":5.0},{"a":80,"t":"S","v":4.8}
]
},
"title": {"text": "FIGURE 8 | Scatterplots of age against mean amplitude for frontal N2 at Fz, early and late P3b (at Pz) for each trial type in target-locked ERPs.", "orient": "bottom", "anchor": "start", "frame": "group", "dx": -144, "offset": 41, "baseline": "top", "fontSize": 18.5, "fontWeight": "bold", "color": "#111"},
"vconcat": [{
"title": {"text": "Target-locked ERP mean amplitude", "anchor": "middle", "frame": "bounds", "dx": 12, "fontSize": 25.7, "fontWeight": "bold", "offset": 38, "baseline": "bottom", "color": "#111"},
"spacing": 41,
"bounds": "flush",
"hconcat": [
{
"width": 318, "height": 249,
"title": {"text": "N2 (Fz: 250-400ms)", "fontSize": 17.5, "anchor": "middle", "frame": "group", "offset": -7, "baseline": "bottom"},
"resolve": {"axis": {"y": "independent"}},
"layer": [
{"data": {"name": "n2"},
"mark": {"type": "point", "filled": false, "size": 30, "strokeWidth": 1.2, "opacity": 1},
"encoding": {
"x": {"field": "a", "type": "quantitative", "scale": {"domain": [15.18, 81.89], "nice": false, "zero": false}, "axis": {"values": [20,30,40,50,60,70,80], "title": "Age", "labelPadding": 10, "titlePadding": 4}},
"y": {"field": "v", "type": "quantitative", "scale": {"domain": [-14, 14], "nice": false, "zero": false}, "axis": {"values": [-12,-8,-4,0,4,8,12], "labelExpr": "'' + datum.value", "title": "μV", "titleAngle": 0, "titleAlign": "center", "titleBaseline": "middle", "titleX": -16, "titleY": 268, "titleFontSize": 15, "labelPadding": 7}},
"color": {"field": "t", "type": "nominal", "scale": {"domain": ["A","M","S"], "range": ["#34a034","#e62828","#2424dc"]}, "legend": {"title": null, "orient": "none", "legendX": 838, "legendY": -146, "labelExpr": "datum.value == 'A' ? 'All-Repeat' : datum.value == 'M' ? 'Mixed-Repeat' : 'Switch'", "labelColor": {"expr": "datum.value == 'A' ? '#1db41d' : datum.value == 'M' ? '#ee1111' : '#1212ee'"}}},
"shape": {"field": "t", "type": "nominal", "scale": {"domain": ["A","M","S"], "range": ["circle","circle","triangle-down"]}, "legend": {"title": null, "orient": "none", "legendX": 838, "legendY": -146, "labelExpr": "datum.value == 'A' ? 'All-Repeat' : datum.value == 'M' ? 'Mixed-Repeat' : 'Switch'", "labelColor": {"expr": "datum.value == 'A' ? '#1db41d' : datum.value == 'M' ? '#ee1111' : '#1212ee'"}}}
}},
{"data": {"name": "n2fit"},
"mark": {"type": "line", "strokeWidth": 3, "strokeCap": "round"},
"encoding": {
"x": {"field": "a", "type": "quantitative", "axis": {"values": [20,30,40,50,60,70,80], "title": "Age", "labelPadding": 10, "titlePadding": 4}},
"y": {"field": "v", "type": "quantitative", "axis": {"orient": "right", "values": [-12,-8,-4,0,4,8,12], "labels": false, "title": null, "tickSize": 5}},
"color": {"field": "t", "type": "nominal", "legend": null}
}}
]
},
{
"width": 328, "height": 249,
"title": {"text": "Early P3b (Pz: 400-600ms)", "fontSize": 17.5, "anchor": "middle", "frame": "group", "offset": -7, "baseline": "bottom"},
"resolve": {"axis": {"y": "independent"}},
"layer": [
{"data": {"name": "early"},
"mark": {"type": "point", "filled": false, "size": 30, "strokeWidth": 1.2, "opacity": 1},
"encoding": {
"x": {"field": "a", "type": "quantitative", "scale": {"domain": [14.04, 83.09], "nice": false, "zero": false}, "axis": {"values": [20,30,40,50,60,70,80], "title": "Age", "labelPadding": 10, "titlePadding": 4}},
"y": {"field": "v", "type": "quantitative", "scale": {"domain": [-5, 22], "nice": false, "zero": false}, "axis": {"values": [-5,0,5,10,15,20], "labelExpr": "'' + datum.value", "title": "μV", "titleAngle": 0, "titleAlign": "center", "titleBaseline": "middle", "titleX": -12, "titleY": 270, "titleFontSize": 15, "labelPadding": 2}},
"color": {"field": "t", "type": "nominal", "legend": {"title": null, "orient": "none", "legendX": 838, "legendY": -146, "labelExpr": "datum.value == 'A' ? 'All-Repeat' : datum.value == 'M' ? 'Mixed-Repeat' : 'Switch'", "labelColor": {"expr": "datum.value == 'A' ? '#1db41d' : datum.value == 'M' ? '#ee1111' : '#1212ee'"}}},
"shape": {"field": "t", "type": "nominal", "legend": {"title": null, "orient": "none", "legendX": 838, "legendY": -146, "labelExpr": "datum.value == 'A' ? 'All-Repeat' : datum.value == 'M' ? 'Mixed-Repeat' : 'Switch'", "labelColor": {"expr": "datum.value == 'A' ? '#1db41d' : datum.value == 'M' ? '#ee1111' : '#1212ee'"}}}
}},
{"data": {"name": "earlyfit"},
"mark": {"type": "line", "strokeWidth": 3, "strokeCap": "round"},
"encoding": {
"x": {"field": "a", "type": "quantitative", "axis": {"values": [20,30,40,50,60,70,80], "title": "Age", "labelPadding": 10, "titlePadding": 4}},
"y": {"field": "v", "type": "quantitative", "axis": {"orient": "right", "values": [-5,0,5,10,15,20], "labels": false, "title": null, "tickSize": 5}},
"color": {"field": "t", "type": "nominal", "legend": null}
}}
]
},
{
"width": 329, "height": 249,
"title": {"text": "Late P3b (Pz: 650-800ms)", "fontSize": 17.5, "anchor": "middle", "frame": "group", "offset": -7, "baseline": "bottom"},
"resolve": {"axis": {"y": "independent"}},
"layer": [
{"data": {"name": "late"},
"mark": {"type": "point", "filled": false, "size": 30, "strokeWidth": 1.2, "opacity": 1},
"encoding": {
"x": {"field": "a", "type": "quantitative", "scale": {"domain": [14.9, 84.1], "nice": false, "zero": false}, "axis": {"values": [20,30,40,50,60,70,80], "title": "Age", "labelPadding": 10, "titlePadding": 4}},
"y": {"field": "v", "type": "quantitative", "scale": {"domain": [-10, 19], "nice": false, "zero": false}, "axis": {"values": [-10,-5,0,5,10,15], "labelExpr": "'' + datum.value", "title": "μV", "titleAngle": 0, "titleAlign": "center", "titleBaseline": "middle", "titleX": -21, "titleY": 271, "titleFontSize": 15, "labelPadding": 3}},
"color": {"field": "t", "type": "nominal", "legend": {"title": null, "orient": "none", "legendX": 838, "legendY": -146, "labelExpr": "datum.value == 'A' ? 'All-Repeat' : datum.value == 'M' ? 'Mixed-Repeat' : 'Switch'", "labelColor": {"expr": "datum.value == 'A' ? '#1db41d' : datum.value == 'M' ? '#ee1111' : '#1212ee'"}}},
"shape": {"field": "t", "type": "nominal", "legend": {"title": null, "orient": "none", "legendX": 838, "legendY": -146, "labelExpr": "datum.value == 'A' ? 'All-Repeat' : datum.value == 'M' ? 'Mixed-Repeat' : 'Switch'", "labelColor": {"expr": "datum.value == 'A' ? '#1db41d' : datum.value == 'M' ? '#ee1111' : '#1212ee'"}}}
}},
{"data": {"name": "latefit"},
"mark": {"type": "line", "strokeWidth": 3, "strokeCap": "round"},
"encoding": {
"x": {"field": "a", "type": "quantitative", "axis": {"values": [20,30,40,50,60,70,80], "title": "Age", "labelPadding": 10, "titlePadding": 4}},
"y": {"field": "v", "type": "quantitative", "axis": {"orient": "right", "values": [-10,-5,0,5,10,15], "labels": false, "title": null, "tickSize": 5}},
"color": {"field": "t", "type": "nominal", "legend": null}
}}
]
}
]
}],
"config": {
"font": "Liberation Sans",
"view": {"stroke": "#4a4a4a", "strokeWidth": 1.3},
"axis": {"grid": false, "domain": false, "tickColor": "#444", "tickSize": 4, "tickWidth": 1, "labelFontSize": 14, "labelColor": "#222", "titleFontSize": 18, "titleFontWeight": "normal", "titleColor": "#222", "labelFlush": false, "labelOverlap": false},
"title": {"fontWeight": "bold", "color": "#111"},
"legend": {"strokeColor": "#555", "fillColor": "white", "padding": 12, "symbolOffset": 14, "labelOffset": 20, "labelFontSize": 17.5, "labelFontWeight": "bold", "rowPadding": 4, "symbolSize": 18, "symbolStrokeWidth": 1.3, "cornerRadius": 0}
}
}
